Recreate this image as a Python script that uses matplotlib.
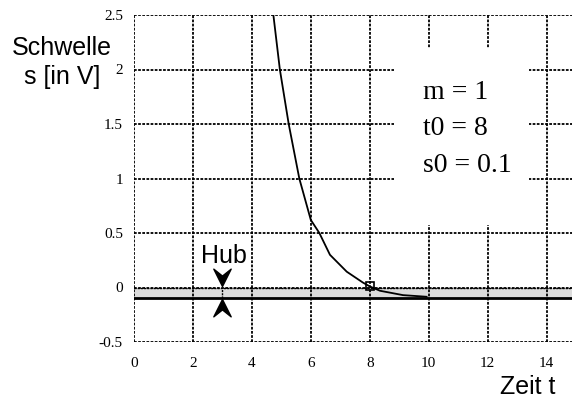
import matplotlib
matplotlib.use("Agg")
import matplotlib.pyplot as plt
from matplotlib.path import Path
from matplotlib.patches import Rectangle

# data
t_vals = [4.73, 4.95, 5.25, 5.61, 6.0, 6.29, 6.65, 7.22, 7.77, 8.0, 8.35, 9.13, 9.93]
s_vals = [2.5, 2.0, 1.5, 1.0, 0.62, 0.5, 0.30, 0.145, 0.045, 0.01, -0.03, -0.07, -0.085]
x_ticks = [0, 2, 4, 6, 8, 10, 12, 14]
y_ticks = [-0.5, 0, 0.5, 1, 1.5, 2, 2.5]
y_tick_labels = ["-0.5", "0", "0.5", "1", "1.5", "2", "2.5"]
band_low, band_high = -0.1, 0.0
marker_t, marker_s = 8.0, 0.01
hub_t = 3.0
params = ["m = 1", "t0 = 8", "s0 = 0.1"]

serif = "Liberation Serif"
sans = "Liberation Sans"

fig = plt.figure(figsize=(5.72, 4.0), dpi=100)
ax = fig.add_axes([134/572, 1-342/400, 442/572, 327/400])
ax.set_xlim(0, 15)
ax.set_ylim(-0.5, 2.5)

for sp in ax.spines.values():
    sp.set_visible(False)
ax.tick_params(length=0)
ax.set_xticks(x_ticks)
ax.set_xticklabels([str(v) for v in x_ticks], family=serif, fontsize=11)
ax.set_yticks(y_ticks)
ax.set_yticklabels(y_tick_labels, family=serif, fontsize=11)
ax.tick_params(axis="x", pad=11)
ax.tick_params(axis="y", pad=8)

dash = (0, (1.5, 0.8))
for xv in x_ticks:
    ax.axvline(xv, color="black", lw=1.3, ls=dash, zorder=1)
for yv in y_ticks:
    ax.axhline(yv, color="black", lw=1.3, ls=dash, zorder=1)

# band
ax.axhspan(band_low, band_high, color="#dcdcdc", zorder=0.5, lw=0)
ax.axhline(band_low, color="black", lw=2.0, zorder=2)
ax.axhline(band_high, color="black", lw=1.0, ls=dash, zorder=2)

# white box for parameters
ax.add_patch(Rectangle((8.84, 0.57), 13.4-8.84, 2.2-0.57, facecolor="white",
                       edgecolor="none", zorder=3))
for i, p in enumerate(params):
    ax.text(9.8, 1.729 - i*0.333, p, family=serif, fontsize=20, ha="left",
            va="baseline", zorder=4)

# curve
ax.plot(t_vals, s_vals, color="black", lw=1.3, zorder=5)
ax.plot([marker_t], [marker_s], marker="s", ms=6, mfc="none", mec="black",
        mew=1.2, zorder=6)

# Hub arrows
down = Path([(0, 0), (-0.5, 1), (0, 0.6), (0.5, 1), (0, 0)],
            [Path.MOVETO, Path.LINETO, Path.LINETO, Path.LINETO, Path.CLOSEPOLY])
up = Path([(0, 0), (-0.5, -1), (0, -0.6), (0.5, -1), (0, 0)],
          [Path.MOVETO, Path.LINETO, Path.LINETO, Path.LINETO, Path.CLOSEPOLY])
ax.plot([hub_t, hub_t], [band_low, band_high], color="black", lw=1.0, ls=dash, zorder=5)
ax.plot([hub_t], [band_high + 0.01], marker=down, ms=25, color="black", zorder=6)
ax.plot([hub_t], [band_low - 0.01], marker=up, ms=25, color="black", zorder=6)
ax.text(hub_t + 0.04, 0.228, "Hub", family=sans, fontsize=18, ha="center",
        va="baseline", zorder=6)

fig.text(62/572, 1-55/400, "Schwelle", family=sans, fontsize=18, ha="center", va="baseline")
fig.text(62/572, 1-84/400, "s [in V]", family=sans, fontsize=18, ha="center", va="baseline")
fig.text(527.5/572, 1-394/400, "Zeit t", family=sans, fontsize=18, ha="center", va="baseline")

fig.savefig("out.png", dpi=100)
